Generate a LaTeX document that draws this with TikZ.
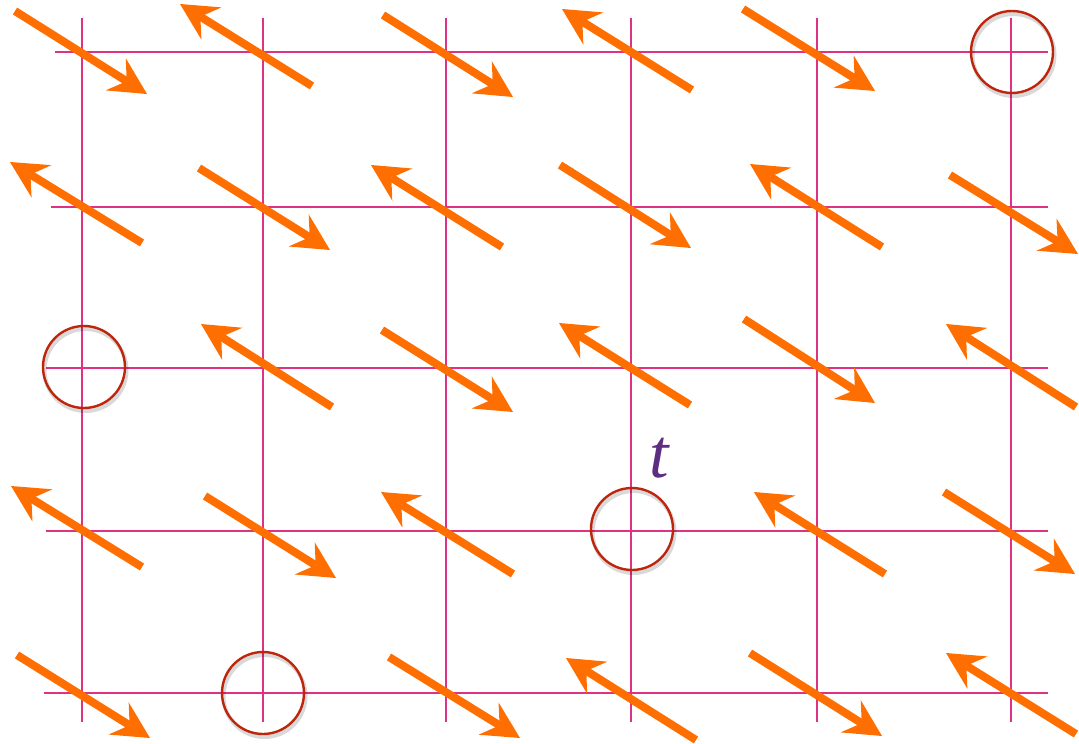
\documentclass[tikz,border=0pt]{standalone}
\usepackage{fontspec}
\newfontfamily\labelfont{Liberation Serif}
\usetikzlibrary{arrows.meta}
\definecolor{latticepink}{RGB}{222,50,132}
\definecolor{spinorange}{RGB}{255,110,0}
\definecolor{sitered}{RGB}{190,38,12}
\definecolor{labelpurple}{RGB}{92,45,128}

\begin{document}
\begin{tikzpicture}[
  x=1pt,y=-1pt,
  gridline/.style={draw=latticepink,line width=1.8pt},
  spin/.style={draw=spinorange,line width=8pt,-{Stealth[length=37pt,width=38pt,inset=13pt,line width=0pt]}},
  site/.style={circle,draw=sitered,line width=2.4pt,minimum size=82pt,inner sep=0pt},
  siteshadow/.style={circle,draw=black,opacity=0.15,line width=4pt,minimum size=82pt,inner sep=0pt}
]
  \useasboundingbox (0,0) rectangle (1079,744);
  % lattice
  \foreach \gx in {82,263,446,631,817,1011}
    \draw[gridline] (\gx,18) -- (\gx,722);
  \foreach \gy/\gs in {52/55,207/51,368/46,531/46,693/44}
    \draw[gridline] (\gs,\gy) -- (1048,\gy);
  % spins (tail/tip)
  \foreach \ax/\ay/\bx/\by in {
      15/11/147/94, 312/86/180/4, 383/15/513/97, 692/90/562/9, 743/9/875/91,
      142/243/10/162, 199/168/330/250, 502/247/371/165, 560/165/691/248, 882/247/750/164, 950/175/1078/254,
      332/407/201/324, 382/330/513/412, 690/405/559/323, 744/319/875/403, 1076/407/946/324,
      142/567/11/486, 205/496/336/578, 513/574/381/492, 885/574/754/492, 944/492/1075/574,
      17/655/150/738, 389/657/520/738, 696/740/566/658, 750/653/882/736, 1076/734/946/653}
    \draw[spin] (\ax,\ay) -- (\bx,\by);
  % marked sites
  \foreach \cx/\cy [count=\i] in {1012/52,84/367,632/529,263/693} {
    \node[siteshadow] (shadow\i) at (\cx+1.5,\cy+3) {};
    \node[site] (site\i) at (\cx,\cy) {};
  }
  \node[text=labelpurple,font=\labelfont\fontsize{70}{70}\selectfont\itshape,inner sep=0pt] (tlabel) at (659,458) {t};
\end{tikzpicture}
\end{document}
